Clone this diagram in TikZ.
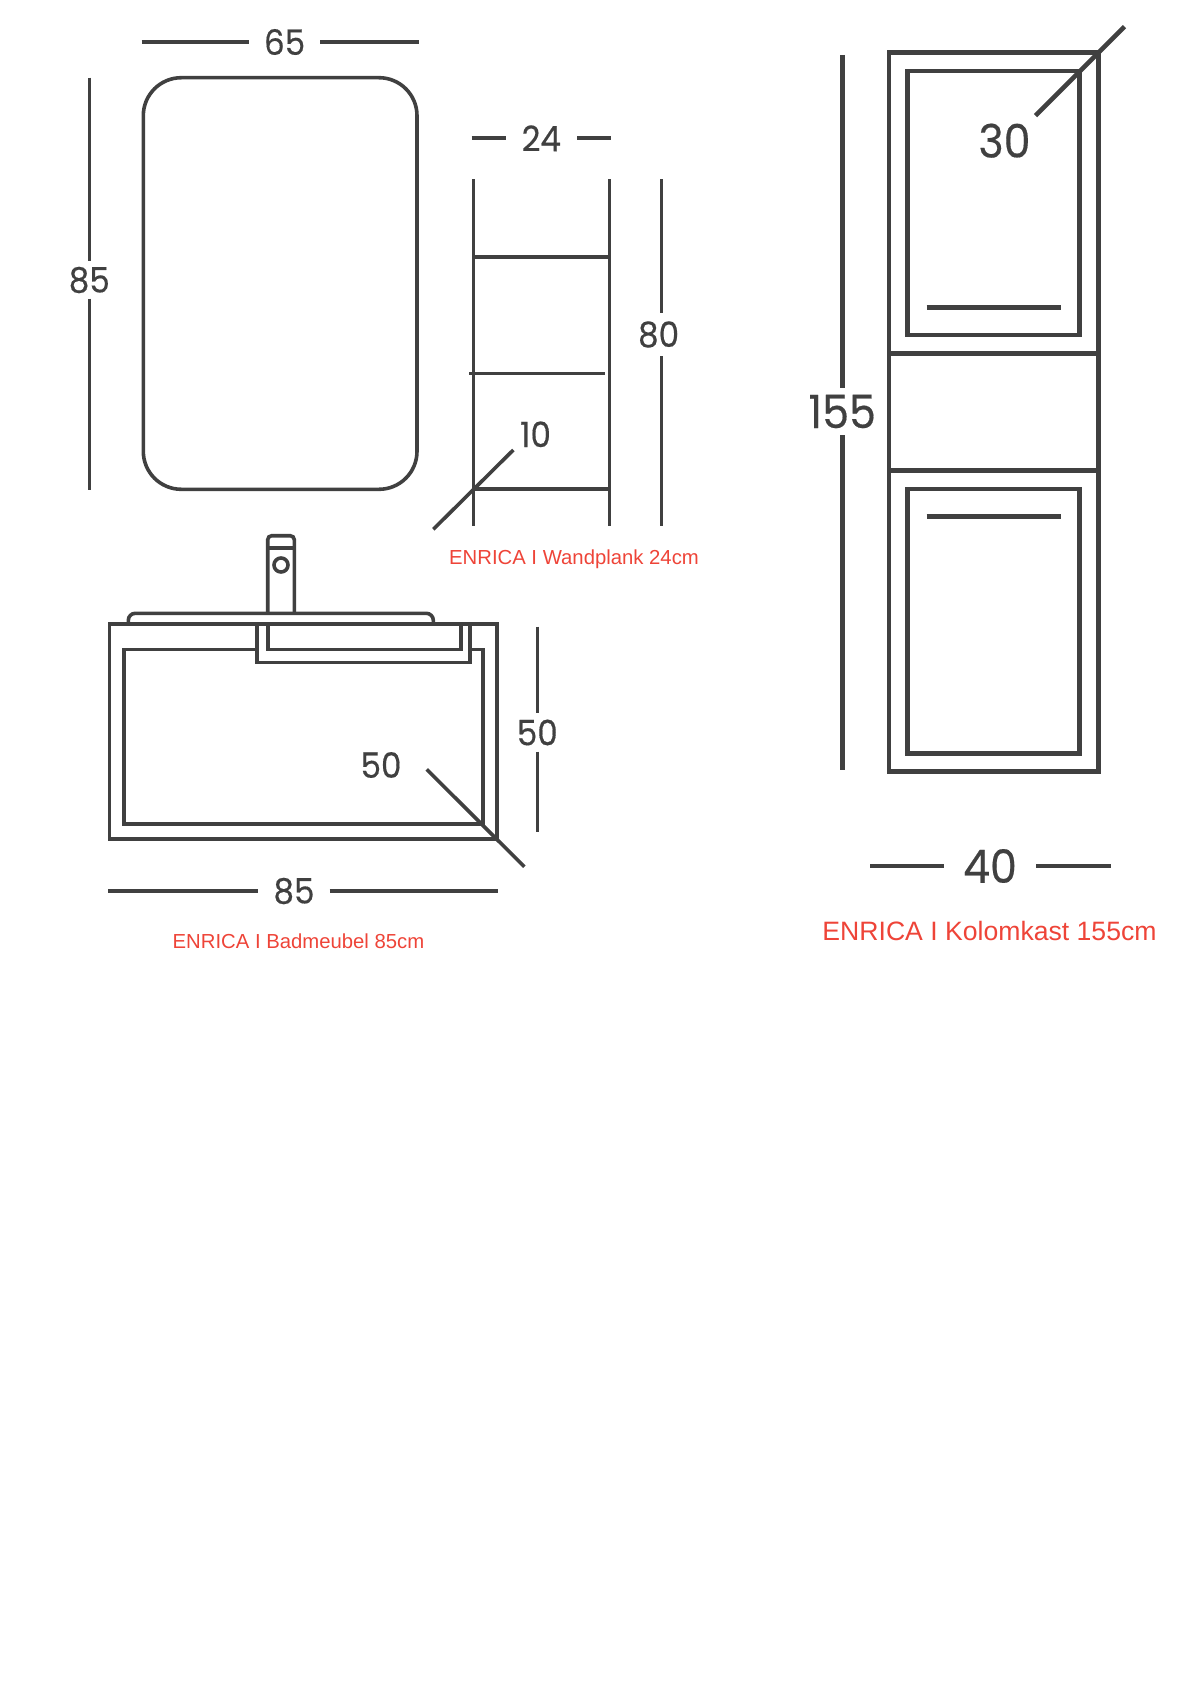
\documentclass[tikz,border=0pt]{standalone}
\usepackage{fontspec}
\setmainfont{Liberation Sans}
\newfontfamily\dimfont[FakeStretch=0.93,FakeBold=0.4]{Poppins}
\definecolor{lineGrey}{HTML}{404040}
\definecolor{capRed}{HTML}{EE4438}
\tikzset{
    outline/.style={draw=lineGrey, line width=3.6pt},
    thick outline/.style={draw=lineGrey, line width=4.6pt},
    dimlabel/.style={text=lineGrey, inner sep=0pt, font=\dimfont\fontsize{35}{35}\selectfont},
    big dimlabel/.style={text=lineGrey, inner sep=0pt, font=\dimfont\fontsize{46}{46}\selectfont},
    caption/.style={text=capRed, inner sep=0pt}
}
\begin{document}
\begin{tikzpicture}[x=1pt, y=-1pt]
    \useasboundingbox (0,0) rectangle (1190,1683);

    %Spiegel
    \draw[outline, rounded corners=38pt] (143.3,77.7) rectangle (417,489.3);

    \node[dimlabel, minimum width=71pt] (w65) at (284.6,42) {65};
    \coordinate (w65a) at (141.7,42);
    \coordinate (w65b) at (418.7,42);
    \draw[outline] (w65a)--(w65);
    \draw[outline] (w65)--(w65b);

    \node[dimlabel, minimum height=37pt] (h85) at (89.3,280) {85};
    \coordinate (h85a) at (89.3,77.7);
    \coordinate (h85b) at (89.3,490);
    \draw[outline] (h85a)--(h85);
    \draw[outline] (h85)--(h85b);

    %Wandplank
    \draw[outline] (473.3,179)--(473.3,525.7);
    \draw[outline] (609.6,179)--(609.6,525.7);
    \draw[outline] (473.3,256.7)--(609.6,256.7);
    \draw[outline] (469.3,373.3)--(605,373.3);
    \draw[outline] (473.3,489)--(609.6,489);

    \node[dimlabel, minimum width=71pt] (w24) at (541.3,138.3) {24};
    \coordinate (w24a) at (471.7,138.3);
    \coordinate (w24b) at (611,138.3);
    \draw[outline] (w24a)--(w24);
    \draw[outline] (w24)--(w24b);

    \node[dimlabel, minimum height=43pt] (h80) at (658.6,334.5) {80};
    \coordinate (h80a) at (661.6,179);
    \coordinate (h80b) at (661.6,525.7);
    \draw[outline] (h80a)--(h80a|-h80.north);
    \draw[outline] (h80a|-h80.south)--(h80b);

    \node[dimlabel] (d10) at (535.5,434.3) {10};
    \coordinate (d10a) at (513.3,450);
    \coordinate (d10b) at (433.3,529.3);
    \draw[outline] (d10a)--(d10b);

    \node[caption, font=\fontsize{20.3}{24}\selectfont] (capShelf) at (574,559.5) {ENRICA I Wandplank 24cm};

    %Badmeubel
    \draw[outline, rounded corners=7pt] (128.3,624)--(128.3,613.3)--(433.3,613.3)--(433.3,624);
    \draw[outline, rounded corners=4pt] (267.7,613.3)--(267.7,535.7)--(294.3,535.7)--(294.3,613.3);
    \draw[outline] (267.7,547.7)--(294.3,547.7);
    \draw[outline] (281,565) circle[radius=7pt];
    \draw[outline] (109.3,624) rectangle (496.7,839);
    \draw[outline] (256.7,649.3)--(124,649.3)--(124,824)--(482.7,824)--(482.7,649.3)--(470,649.3);
    \draw[outline] (256.7,624)--(256.7,662.3)--(470,662.3)--(470,624);
    \draw[outline] (267.7,624)--(267.7,649.3)--(461,649.3)--(461,624);

    \node[dimlabel, minimum width=71pt] (w85) at (294,891) {85};
    \coordinate (w85a) at (108.3,891);
    \coordinate (w85b) at (497.7,891);
    \draw[outline] (w85a)--(w85);
    \draw[outline] (w85)--(w85b);

    \node[dimlabel, minimum height=38pt] (h50) at (537.3,732.5) {50};
    \coordinate (h50a) at (537.3,626.7);
    \coordinate (h50b) at (537.3,831.7);
    \draw[outline] (h50a)--(h50);
    \draw[outline] (h50)--(h50b);

    \node[dimlabel] (d50) at (381,765) {50};
    \coordinate (d50a) at (426.7,769.3);
    \coordinate (d50b) at (524.3,866.7);
    \draw[outline] (d50a)--(d50b);

    \node[caption, font=\fontsize{20.3}{24}\selectfont] (capBase) at (298.5,941.5) {ENRICA I Badmeubel 85cm};

    %Kolomkast
    \draw[thick outline] (889,52.3) rectangle (1098.5,771.3);
    \draw[thick outline] (889,353.3)--(1098.5,353.3);
    \draw[thick outline] (889,470.5)--(1098.5,470.5);
    \draw[thick outline] (907.6,71) rectangle (1079.6,335);
    \draw[thick outline] (907.6,489) rectangle (1079.6,753.3);
    \draw[thick outline] (926.5,307.3)--(1060.5,307.3);
    \draw[thick outline] (926.5,516.7)--(1060.5,516.7);

    \node[big dimlabel, minimum height=47pt] (h155) at (842.2,411.5) {155};
    \coordinate (h155a) at (842.2,55);
    \coordinate (h155b) at (842.2,770);
    \draw[thick outline] (h155a)--(h155);
    \draw[thick outline] (h155)--(h155b);

    \node[big dimlabel, minimum width=92pt] (w40) at (990,866) {40};
    \coordinate (w40a) at (870,866);
    \coordinate (w40b) at (1110.7,866);
    \draw[thick outline] (w40a)--(w40);
    \draw[thick outline] (w40)--(w40b);

    \node[big dimlabel] (d30) at (1004.5,140.7) {30};
    \coordinate (d30a) at (1035.5,115.7);
    \coordinate (d30b) at (1124.5,26.7);
    \draw[thick outline] (d30a)--(d30b);

    \node[caption, font=\fontsize{26.6}{32}\selectfont] (capColumn) at (989.5,930.5) {ENRICA I Kolomkast 155cm};

\end{tikzpicture}
\end{document}
